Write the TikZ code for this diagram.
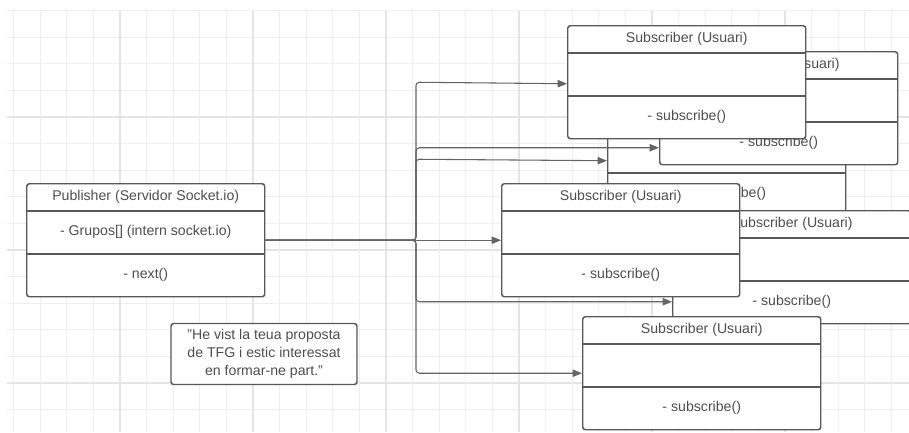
\documentclass[tikz,border=0pt]{standalone}
\usepackage{fontspec}
\setmainfont{Liberation Sans}
\usetikzlibrary{arrows.meta,calc}

\definecolor{ink}{RGB}{78,78,78}
\definecolor{edge}{RGB}{88,88,88}
\definecolor{wire}{RGB}{100,100,100}
\definecolor{gridminor}{RGB}{238,238,238}
\definecolor{gridmajor}{RGB}{228,228,228}

\tikzset{
  classframe/.style={draw=edge, line width=1.1pt, fill=white, rounded corners=2pt,
    inner sep=0pt, minimum width=178.5pt, minimum height=84.75pt, anchor=north west},
  classtext/.style={text=ink, inner sep=0pt, font=\fontsize{10.6}{13}\selectfont},
  divider/.style={draw=edge, line width=1.1pt},
  notebox/.style={draw=edge, line width=1.1pt, fill=white, rounded corners=2pt,
    minimum width=139.5pt, minimum height=45.75pt, inner sep=0pt, align=center,
    text=ink, font=\fontsize{10.6}{13.5}\selectfont},
  wireline/.style={draw=wire, line width=0.8pt, rounded corners=2.5pt,
    -{Triangle[length=7pt,width=5.5pt]}},
}

% UML class box: name, left x, top y, header, attributes, methods
\newcommand\classbox[6]{%
  \node[classframe] (#1) at (#2,#3) {};
  \draw[divider] ([yshift=-21pt]#1.north west) -- ([yshift=-21pt]#1.north east);
  \draw[divider] ([yshift=-53.25pt]#1.north west) -- ([yshift=-53.25pt]#1.north east);
  \node[classtext] (#1-h) at ([yshift=-10.5pt]#1.north) {#4};
  \node[classtext] (#1-a) at ([yshift=-37pt]#1.north) {#5};
  \node[classtext] (#1-m) at ([yshift=-69pt]#1.north) {#6};
}

\begin{document}
\begin{tikzpicture}[x=0.75pt,y=-0.75pt]
  \useasboundingbox (0,0) rectangle (909,432);
  \fill[white] (0,0) rectangle (909,432);

  % background grid
  \foreach \k in {0,...,15} {
    \pgfmathsetmacro\yy{10.6+\k*26.6}
    \pgfmathtruncatemacro\mj{mod(\k+1,5)==0 ? 1 : 0}
    \ifnum\mj=1
      \draw[gridmajor, line width=0.9pt] (7,\yy) -- (909,\yy);
    \else
      \draw[gridminor, line width=0.9pt] (7,\yy) -- (909,\yy);
    \fi
  }
  \foreach \k in {0,...,34} {
    \pgfmathsetmacro\xx{13.6+\k*26.6}
    \pgfmathtruncatemacro\mj{mod(\k+1,5)==0 ? 1 : 0}
    \ifnum\mj=1
      \draw[gridmajor, line width=0.9pt] (\xx,10.6) -- (\xx,432);
    \else
      \draw[gridminor, line width=0.9pt] (\xx,10.6) -- (\xx,432);
    \fi
  }

  % subscriber boxes, back to front (the rearmost header lies fully under the front box)
  \classbox{subC}{607}{102}{}{}{- subscribe()}
  \classbox{subB}{659}{51}{Subscriber (Usuari)}{}{- subscribe()}
  \classbox{subA}{567}{25}{Subscriber (Usuari)}{}{- subscribe()}
  \classbox{subE}{672}{210}{Subscriber (Usuari)}{}{- subscribe()}
  \classbox{subD}{501}{183}{Subscriber (Usuari)}{}{- subscribe()}
  \classbox{subF}{582}{316}{Subscriber (Usuari)}{}{- subscribe()}

  % publisher
  \classbox{pub}{26}{183}{Publisher (Servidor Socket.io)}{- Grupos[] (intern socket.io)}{- next()}

  % quotation note
  \node[notebox] (note) at (264,354) {"He vist la teua proposta\\de TFG i estic interessat\\en formar-ne part."};

  % distribution bus
  \coordinate (bus) at (416,0);
  \draw[wireline] (pub.east) -| (bus |- subA.west) -- ($(subA.west)+(0,1.5)$);
  \draw[wireline] (pub.east) -| (bus |- {$(subB.west)+(0,39.5)$}) -- ($(subB.west)+(0,39.5)$);
  \draw[wireline] (pub.east) -| (bus |- subC.west) -- ($(subC.west)+(0,1.5)$);
  \draw[wireline] (pub.east) -- (subD.west);
  \draw[wireline] (pub.east) -| (bus |- {$(subE.west)+(0,34.5)$}) -- ($(subE.west)+(0,34.5)$);
  \draw[wireline] (pub.east) -| (bus |- subF.west) -- (subF.west);
\end{tikzpicture}
\end{document}
